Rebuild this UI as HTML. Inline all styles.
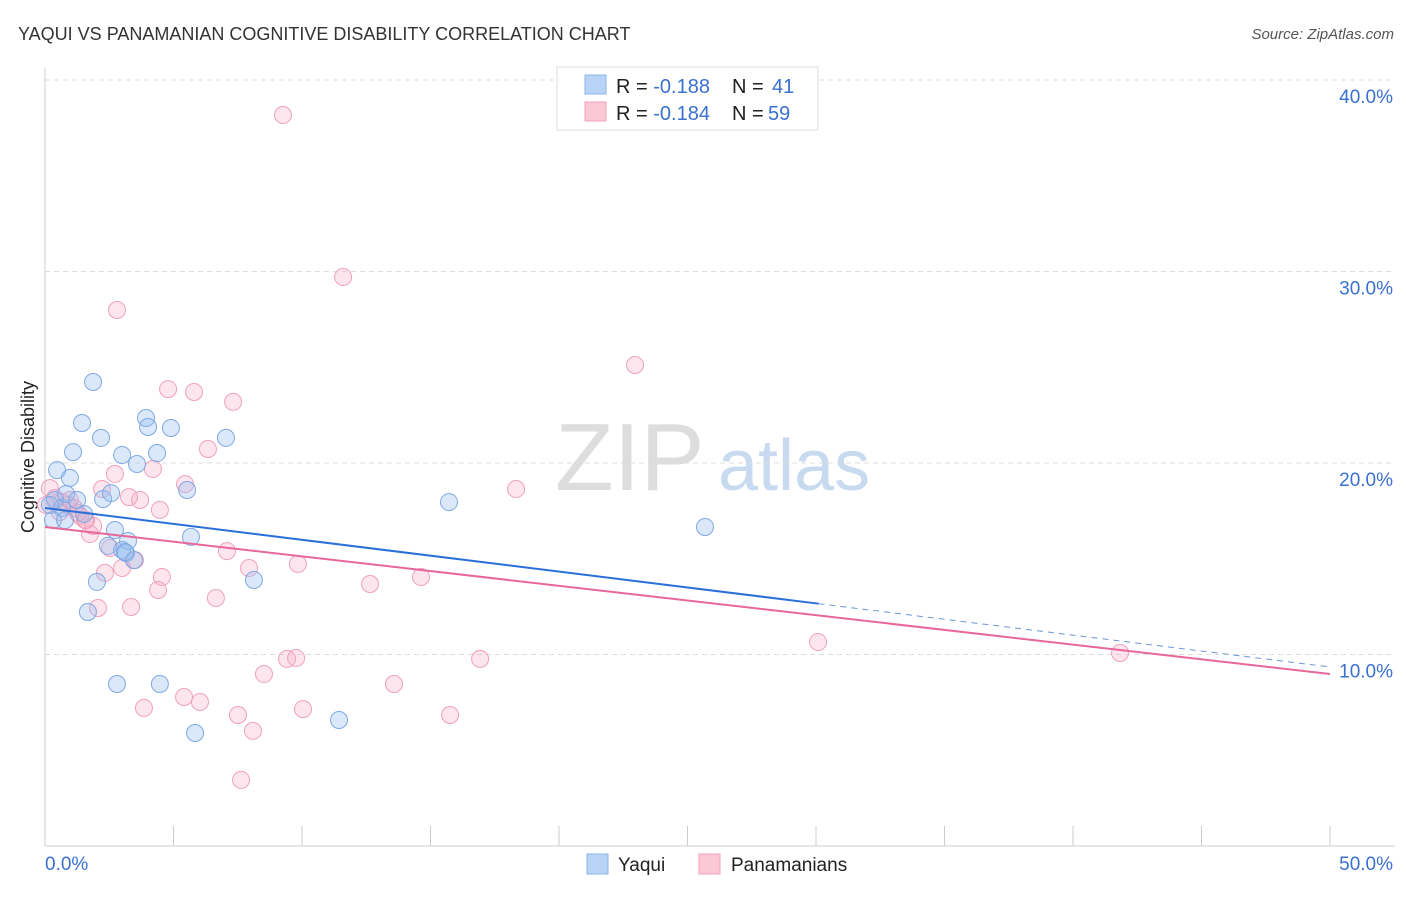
<!DOCTYPE html>
<html><head><meta charset="utf-8"><style>
body{margin:0;background:#fff;font-family:"Liberation Sans",sans-serif;}
svg text{font-family:"Liberation Sans",sans-serif;}
</style></head><body>
<svg id="c" width="1406" height="892" xmlns="http://www.w3.org/2000/svg">
<text x="18" y="40" font-size="18" fill="#333">YAQUI VS PANAMANIAN COGNITIVE DISABILITY CORRELATION CHART</text>
<text x="1394" y="39" font-size="15" fill="#555" font-style="italic" text-anchor="end">Source: ZipAtlas.com</text>
<text x="34" y="457" font-size="18" fill="#222" text-anchor="middle" transform="rotate(-90 34 457)">Cognitive Disability</text>
<g><text x="555" y="490" font-size="96" fill="#ddd" font-family="Liberation Serif">ZIP</text><text x="718" y="490" font-size="72" fill="#c8daf0">atlas</text></g>
<g id="grid"></g><g id="axes"></g><g id="pts"></g><g id="trend"></g>
<g>
<rect x="557" y="67" width="261" height="63" fill="#fff" stroke="#ddd"/>
<rect x="585" y="75" width="21" height="19" fill="#b8d3f5" stroke="#8ab4e8"/>
<rect x="585" y="102" width="21" height="19" fill="#fcc8d6" stroke="#f0a0bc"/>
<text x="616" y="93" font-size="20" fill="#222">R = <tspan fill="#3a70d0">-0.188</tspan><tspan x="732">N = </tspan><tspan fill="#3a70d0" x="772">41</tspan></text>
<text x="616" y="120" font-size="20" fill="#222">R = <tspan fill="#3a70d0">-0.184</tspan><tspan x="732">N = </tspan><tspan fill="#3a70d0" x="768">59</tspan></text>
</g>
<g>
<rect x="587" y="854" width="21" height="20" fill="#b8d3f5" stroke="#8ab4e8"/>
<text x="618" y="871" font-size="19" fill="#222">Yaqui</text>
<rect x="699" y="854" width="21" height="20" fill="#fcc8d6" stroke="#f0a0bc"/>
<text x="731" y="871" font-size="19" fill="#222">Panamanians</text>
</g>
</svg>
<script>
const yTicks=[10,20,30,40];
const yTickLabels=["10.0%","20.0%","30.0%","40.0%"];
const xTickLabels=["0.0%","50.0%"];
const yaquiX=[0.31,0.47,0.39,0.66,0.82,0.97,1.09,1.25,1.44,1.52,1.67,1.87,2.02,2.18,2.26,2.45,2.57,2.72,2.80,3.00,3.00,3.15,3.23,3.46,3.58,3.93,4.01,4.36,4.47,4.90,5.53,5.68,5.84,7.04,8.13,11.44,15.72,25.68,0.78,3.11,0.19];
const yaquiY=[17.02,19.63,18.07,17.65,18.38,19.22,20.57,18.07,22.09,17.34,12.22,24.23,13.79,21.31,18.12,15.67,18.43,16.50,8.46,20.42,15.46,15.30,15.93,14.93,19.95,22.35,21.88,20.52,8.46,21.83,18.59,16.14,5.90,21.31,13.89,6.58,17.96,16.66,17.02,15.35,17.81];
const panX=[9.26,11.60,2.80,22.96,4.79,5.80,7.32,6.34,4.20,2.72,5.45,18.33,0.19,0.39,0.66,0.89,1.13,1.36,1.56,1.75,1.87,2.22,2.53,3.27,3.70,4.47,2.33,3.00,3.50,4.55,4.40,2.06,3.35,6.65,7.08,7.94,9.84,12.65,14.63,8.52,9.42,9.77,16.93,13.58,5.41,6.03,3.85,7.51,10.04,15.76,8.09,7.63,30.08,41.83,0.58,0.97,1.28,1.60,0.04];
const panY=[38.17,29.71,27.99,25.12,23.86,23.71,23.19,20.73,19.69,19.43,18.90,18.64,18.69,18.17,17.96,17.81,17.65,17.23,17.02,16.29,16.71,18.64,15.56,18.22,18.07,17.55,14.26,14.52,14.93,14.05,13.37,12.43,12.48,12.95,15.40,14.52,14.73,13.68,14.05,8.98,9.77,9.82,9.77,8.46,7.78,7.52,7.21,6.84,7.15,6.84,6.01,3.45,10.65,10.08,17.44,18.07,17.39,17.02,17.81];
const yaquiTrend=[17.65,9.35];
const panTrend=[16.66,8.98];
const NS="http://www.w3.org/2000/svg";
const X=v=>45+v*25.7, Y=v=>846-v*19.15;
function mk(p,t,a){const e=document.createElementNS(NS,t);for(const k in a)e.setAttribute(k,a[k]);document.getElementById(p).appendChild(e);return e;}
yTicks.forEach((t,i)=>{
 const g=mk('grid','line',{x1:45,x2:1395,y1:Y(t),y2:Y(t),stroke:'#ddd','stroke-dasharray':'5,4'});
 
 
 const l=mk('grid','text',{x:1393,y:Y(t)+23,'font-size':19,fill:'#3a70d0','text-anchor':'end'});
 l.textContent=yTickLabels[i];
 
 
});
const ax=mk('axes','line',{x1:45,x2:45,y1:68,y2:846,stroke:'#ccc'});


const bx=mk('axes','line',{x1:45,x2:1395,y1:846,y2:846,stroke:'#ccc'});


for(let i=0;i<=10;i++){
 const t=mk('axes','line',{x1:X(i*5),x2:X(i*5),y1:826,y2:846,stroke:'#ccc'});
 
 
}
[[0,'start',45],[50,'end',1393]].forEach((d,i)=>{
 const l=mk('axes','text',{x:d[2],y:870,'font-size':19,fill:'#3a70d0','text-anchor':d[1]});
 l.textContent=xTickLabels[i];
 
 
});
panX.forEach((v,i)=>{
 const c=mk('pts','circle',{cx:X(v),cy:Y(panY[i]),r:8.5,fill:'rgba(245,170,195,0.3)',stroke:'#f0a0bc','stroke-width':1});
 
 
});
yaquiX.forEach((v,i)=>{
 const c=mk('pts','circle',{cx:X(v),cy:Y(yaquiY[i]),r:8.5,fill:'rgba(150,190,240,0.35)',stroke:'#7fa9e3','stroke-width':1});
 
 
});
const yv=x=>yaquiTrend[0]+(yaquiTrend[1]-yaquiTrend[0])*x/50;
const t1=mk('trend','line',{x1:X(0),y1:Y(yv(0)),x2:X(30.1),y2:Y(yv(30.1)),stroke:'#2a6fd8','stroke-width':2});


const t2=mk('trend','line',{x1:X(30.1),y1:Y(yv(30.1)),x2:X(50),y2:Y(yv(50)),stroke:'#6a95d8','stroke-width':1,'stroke-dasharray':'6,5'});


const t3=mk('trend','line',{x1:X(0),y1:Y(panTrend[0]),x2:X(50),y2:Y(panTrend[1]),stroke:'#e8679a','stroke-width':2});


</script>
</body></html>
